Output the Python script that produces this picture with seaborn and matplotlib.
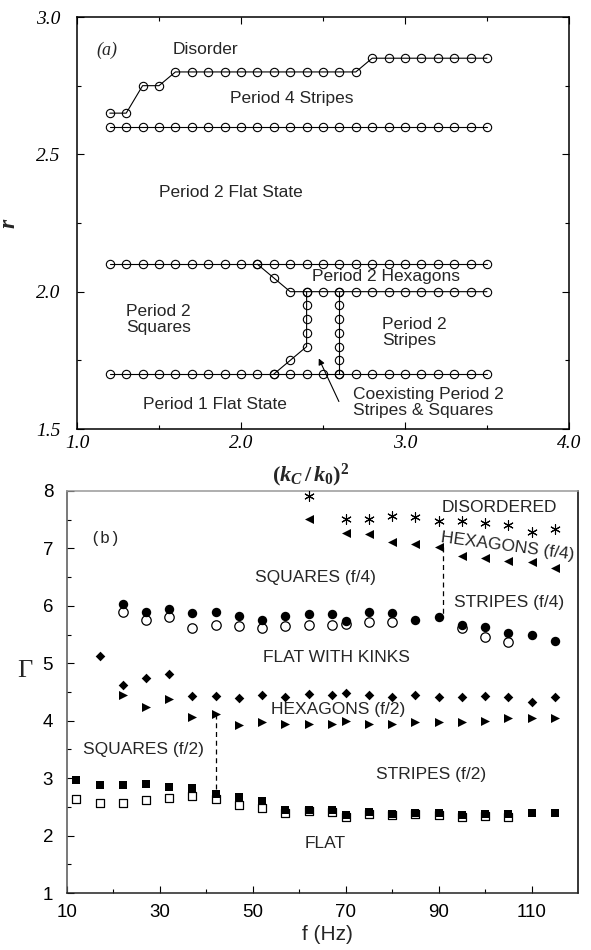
# phase diagram, two panels: (a) r vs (kc/k0)^2, (b) Gamma vs f
import numpy as np
import pandas as pd
import matplotlib
matplotlib.use('Agg')
import matplotlib.pyplot as plt
import seaborn as sns

# ---- panel (a) data ----
kc = [1.2, 1.3, 1.4, 1.5, 1.6, 1.7, 1.8, 1.9, 2.0, 2.1, 2.2, 2.3,
      2.4, 2.5, 2.6, 2.7, 2.8, 2.9, 3.0, 3.1, 3.2, 3.3, 3.4, 3.5]
r_disorder = [2.65, 2.65, 2.75, 2.75, 2.80, 2.80, 2.80, 2.80, 2.80, 2.80, 2.80, 2.80,
              2.80, 2.80, 2.80, 2.80, 2.85, 2.85, 2.85, 2.85, 2.85, 2.85, 2.85, 2.85]
r_p4 = [2.6] * 24
r_hex_top = [2.1] * 24
r_p1 = [1.7] * 24
kc_hex_bot = [2.1, 2.2, 2.3, 2.4, 2.5, 2.6, 2.7, 2.8, 2.9, 3.0, 3.1, 3.2, 3.3, 3.4, 3.5]
r_hex_bot = [2.1, 2.05, 2.0, 2.0, 2.0, 2.0, 2.0, 2.0, 2.0, 2.0, 2.0, 2.0, 2.0, 2.0, 2.0]
kc_sq_edge = [2.2, 2.3, 2.4, 2.4, 2.4, 2.4, 2.4]
r_sq_edge = [1.7, 1.75, 1.8, 1.85, 1.9, 1.95, 2.0]
kc_st_edge = [2.6, 2.6, 2.6, 2.6, 2.6, 2.6, 2.6]
r_st_edge = [1.7, 1.75, 1.8, 1.85, 1.9, 1.95, 2.0]

labels_a = [
    ("Disorder", 1.58, 2.88),
    ("Period 4 Stripes", 1.93, 2.705),
    ("Period 2 Flat State", 1.50, 2.36),
    ("Period 2 Hexagons", 2.43, 2.054),
    ("Period 2\nSquares", 1.30, 1.90),
    ("Period 2\nStripes", 2.86, 1.85),
    ("Period 1 Flat State", 1.40, 1.59),
    ("Coexisting Period 2\nStripes & Squares", 2.68, 1.597),
]
arrow_tail = (2.604, 1.591)
arrow_head = (2.467, 1.766)

# ---- panel (b) data ----
f_sq = [12, 17, 22, 27, 32, 37, 42, 47, 52, 57, 62, 67, 70, 75, 80, 85, 90, 95, 100, 105, 110, 115]
g_sq_filled = [2.97, 2.88, 2.88, 2.90, 2.85, 2.83, 2.73, 2.67, 2.60, 2.45, 2.44, 2.45,
               2.36, 2.41, 2.38, 2.40, 2.39, 2.35, 2.37, 2.37, 2.40, 2.39]
g_sq_open = [2.63, 2.57, 2.57, 2.62, 2.65, 2.69, 2.63, 2.54, 2.48, 2.39, 2.42, 2.41,
             2.32, 2.38, 2.36, 2.37, 2.36, 2.33, 2.34, 2.33, np.nan, np.nan]

f_circ = [22, 27, 32, 37, 42, 47, 52, 57, 62, 67, 70, 75, 80, 85, 90, 95, 100, 105, 110, 115]
g_circ_filled = [6.04, 5.90, 5.94, 5.88, 5.90, 5.82, 5.75, 5.82, 5.86, 5.86, 5.74, 5.90,
                 5.88, 5.76, 5.80, 5.66, 5.64, 5.53, 5.50, 5.38]
g_circ_open = [5.90, 5.76, 5.80, 5.62, 5.67, 5.65, 5.61, 5.65, 5.67, 5.67, 5.69, 5.72,
               5.72, np.nan, np.nan, 5.61, 5.46, 5.37, np.nan, np.nan]

f_dia = [17, 22, 27, 32, 37, 42, 47, 52, 57, 62, 67, 70, 75, 80, 85, 90, 95, 100, 105, 110, 115]
g_dia = [5.13, 4.63, 4.75, 4.81, 4.43, 4.43, 4.39, 4.45, 4.42, 4.46, 4.45, 4.48, 4.45,
         4.41, 4.45, 4.41, 4.41, 4.43, 4.42, 4.33, 4.41]

f_tri_r = [22, 27, 32, 37, 42, 47, 52, 57, 62, 67, 70, 75, 80, 85, 90, 95, 100, 105, 110, 115]
g_tri_r = [4.45, 4.23, 4.37, 4.06, 4.12, 3.92, 3.98, 3.94, 3.95, 3.95, 4.00, 3.95, 3.95,
           3.98, 3.97, 3.98, 4.00, 4.04, 4.04, 4.04]

f_tri_l = [62, 70, 75, 80, 85, 90, 95, 100, 105, 110, 115]
g_tri_l = [7.51, 7.26, 7.25, 7.12, 7.08, 7.03, 6.87, 6.83, 6.78, 6.76, 6.65]

f_star = [62, 70, 75, 80, 85, 90, 95, 100, 105, 110, 115]
g_star = [7.91, 7.51, 7.52, 7.57, 7.54, 7.47, 7.47, 7.45, 7.41, 7.28, 7.34]

dash_f = [(91, 91), (42, 42)]
dash_g = [(7.03, 5.80), (4.12, 2.73)]

labels_b = [
    ("DISORDERED", 90.6, 7.71, 0),
    ("SQUARES (f/4)", 50.4, 6.50, 0),
    ("STRIPES (f/4)", 93.4, 6.05, 0),
    ("FLAT WITH KINKS", 52.2, 5.10, 0),
    ("HEXAGONS (f/2)", 54.0, 4.20, 0),
    ("SQUARES (f/2)", 13.4, 3.49, 0),
    ("STRIPES (f/2)", 76.6, 3.07, 0),
    ("FLAT", 61.2, 1.86, 0),
    ("HEXAGONS (f/4)", 90.6, 7.19, -7.5),
]

# ---- style ----
sns.set_style("ticks")
plt.rcParams.update({
    'font.family': ['Liberation Sans', 'DejaVu Sans'],
    'mathtext.fontset': 'custom',
    'mathtext.it': 'Liberation Serif:italic:bold',
    'mathtext.rm': 'Liberation Serif:bold',
    'mathtext.bf': 'Liberation Serif:bold',
    'xtick.direction': 'in',
    'ytick.direction': 'in',
})

fig = plt.figure(figsize=(5.91, 9.5), dpi=100)
ax1 = fig.add_axes([0.1303, 0.5484, 0.8325, 0.4337])
ax2 = fig.add_axes([0.1134, 0.06, 0.8646, 0.4232])

# ---- panel (a) ----
line_kw = dict(estimator=None, sort=False, color='black', linewidth=0.8, marker='o',
               markersize=6, markerfacecolor='none', markeredgecolor='black',
               markeredgewidth=0.8, legend=False)
for xs, ys in [(kc, r_disorder), (kc, r_p4), (kc, r_hex_top), (kc, r_p1),
               (kc_hex_bot, r_hex_bot), (kc_sq_edge, r_sq_edge), (kc_st_edge, r_st_edge)]:
    sns.lineplot(x=xs, y=ys, ax=ax1, **line_kw)

for txt, x, y in labels_a:
    ax1.text(x, y, txt, ha='left', va='center', fontsize=12.5, linespacing=1.1)
ax1.text(1.12, 2.88, "(a)", ha='left', va='center', fontsize=13,
         fontfamily='Liberation Serif', fontstyle='italic')
ax1.annotate('', xy=arrow_head, xytext=arrow_tail,
             arrowprops=dict(arrowstyle='-|>', color='black', lw=0.8, mutation_scale=9))

ax1.set_xlim(1.0, 4.0)
ax1.set_ylim(1.5, 3.0)
ax1.set_xticks([1.0, 2.0, 3.0, 4.0])
ax1.set_xticks([1.5, 2.5, 3.5], minor=True)
ax1.set_yticks([1.5, 2.0, 2.5, 3.0])
ax1.set_yticks([1.75, 2.25, 2.75], minor=True)
ax1.set_xticklabels(['1.0', '2.0', '3.0', '4.0'], fontfamily='Liberation Serif',
                    fontstyle='italic', fontsize=14)
ax1.set_yticklabels(['1.5', '2.0', '2.5', '3.0'], fontfamily='Liberation Serif',
                    fontstyle='italic', fontsize=14)
ax1.tick_params(which='both', top=True, right=True, width=0.8, colors='black')
ax1.tick_params(which='major', length=5, pad=4)
ax1.tick_params(axis='y', which='major', pad=12)
ax1.tick_params(which='minor', length=3)
for sp in ax1.spines.values():
    sp.set_linewidth(1.1)
    sp.set_color('black')
ax1.set_xlabel(r'$(k_C\,/\,k_0)^2$', fontsize=16)
ax1.xaxis.set_label_coords(0.474, -0.08)
ax1.set_ylabel('r', fontsize=17, fontfamily='Liberation Serif', fontstyle='italic',
               fontweight='bold')
ax1.yaxis.set_label_coords(-0.116, 0.5)

# ---- panel (b) ----
sns.scatterplot(x=f_sq, y=g_sq_open, ax=ax2, marker='s', s=32, facecolor='white',
                edgecolor='black', linewidth=0.9, zorder=3)
sns.scatterplot(x=f_sq, y=g_sq_filled, ax=ax2, marker='s', s=32, color='black',
                edgecolor='black', linewidth=0, zorder=4)
sns.scatterplot(x=f_circ, y=g_circ_open, ax=ax2, marker='o', s=46, facecolor='white',
                edgecolor='black', linewidth=0.9, zorder=3)
sns.scatterplot(x=f_circ, y=g_circ_filled, ax=ax2, marker='o', s=46, color='black',
                edgecolor='black', linewidth=0, zorder=4)
sns.scatterplot(x=f_dia, y=g_dia, ax=ax2, marker='D', s=24, color='black',
                edgecolor='black', linewidth=0, zorder=4)
sns.scatterplot(x=f_tri_r, y=g_tri_r, ax=ax2, marker='>', s=42, color='black',
                edgecolor='black', linewidth=0, zorder=4)
sns.scatterplot(x=f_tri_l, y=g_tri_l, ax=ax2, marker='<', s=42, color='black',
                edgecolor='black', linewidth=0, zorder=4)
sns.scatterplot(x=f_star, y=g_star, ax=ax2, marker=(6, 2, 0), s=48, color='black',
                edgecolor='black', linewidth=0.8, zorder=4)
for fx, gy in zip(dash_f, dash_g):
    ax2.plot(fx, gy, color='black', linewidth=0.9, linestyle=(0, (4, 3)), zorder=2)

for txt, x, y, rot in labels_b:
    ax2.text(x, y, txt, ha='left', va='center', fontsize=12.5, rotation=rot,
             rotation_mode='anchor')
ax2.text(15, 7.17, "(b)", ha='left', va='center', fontsize=12,
         fontfamily='Liberation Mono')

ax2.set_xlim(10, 120)
ax2.set_ylim(1, 8)
ax2.set_xticks([10, 30, 50, 70, 90, 110])
ax2.set_xticks([20, 40, 60, 80, 100], minor=True)
ax2.set_yticks([1, 2, 3, 4, 5, 6, 7, 8])
ax2.set_yticks([1.5, 2.5, 3.5, 4.5, 5.5, 6.5, 7.5], minor=True)
ax2.tick_params(which='both', labelsize=13.5, width=0.8, colors='black')
ax2.tick_params(which='major', length=5)
ax2.tick_params(axis='y', which='major', pad=10)
ax2.tick_params(axis='x', which='major', pad=8)
ax2.tick_params(which='minor', length=3)
ax2.spines['left'].set_color('#555555')
ax2.spines['top'].set_color('#999999')
ax2.spines['right'].set_color('black')
ax2.spines['bottom'].set_color('#222222')
for sp in ax2.spines.values():
    sp.set_linewidth(1.1)
ax2.set_xlabel('f (Hz)', fontsize=15)
ax2.xaxis.set_label_coords(0.509, -0.08)
ax2.set_ylabel('Γ', fontsize=19, fontfamily='Liberation Serif', rotation=0)
ax2.yaxis.set_label_coords(-0.082, 0.525)

fig.savefig('out.png', dpi=100)
